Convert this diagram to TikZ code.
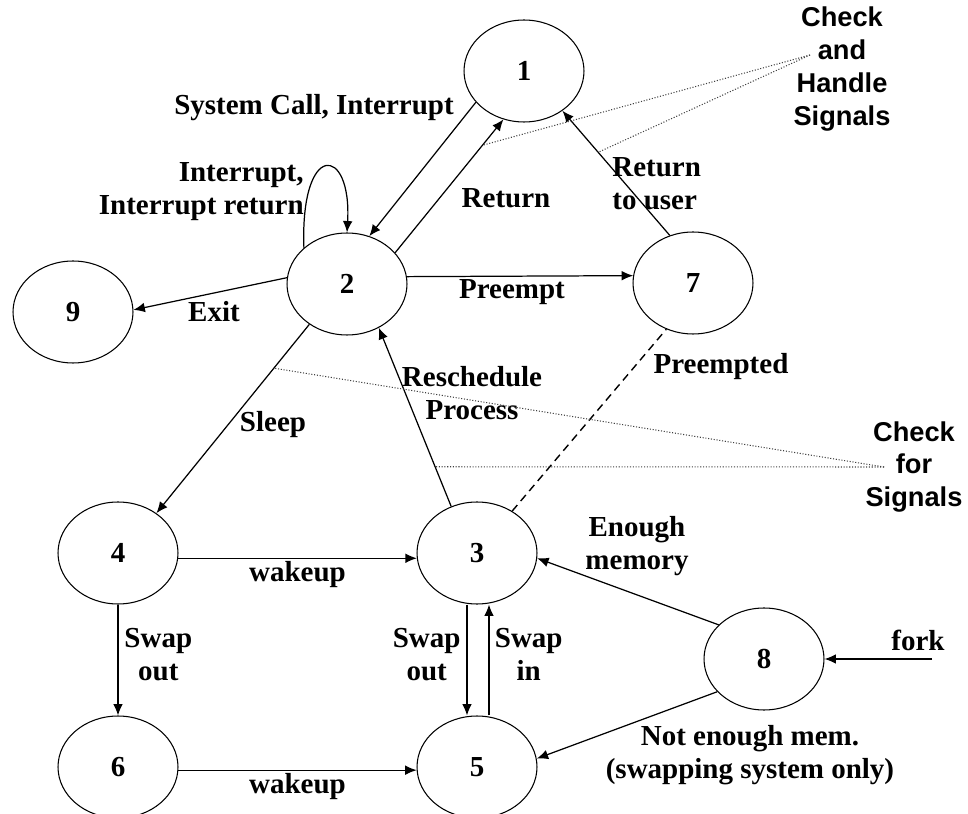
\documentclass[tikz,border=0pt]{standalone}
\usepackage{fontspec}
\setmainfont{Liberation Serif}
\newfontfamily\signalfont{Liberation Sans}
\usetikzlibrary{shapes.geometric, arrows.meta}

\begin{document}
\begin{tikzpicture}[
            x=0.02cm, y=-0.02cm,
            font=\fontsize{16.5}{18.7}\selectfont\bfseries,
            >={Latex[length=6.5pt, width=5.5pt]},
            % Styles
            state/.style={ellipse, draw, line width=0.6pt, minimum width=2.4cm, minimum height=2.04cm, inner sep=0pt},
            arrow/.style={->, line width=0.7pt},
            lbl/.style={align=center, inner sep=0pt},
            signal/.style={densely dotted, line width=0.6pt, black!75},
            note/.style={align=center, font=\signalfont\bfseries\fontsize{15.5}{18.7}\selectfont}
        ]
        \useasboundingbox (0,0) rectangle (968,814);

        % --- STATES ---
        \node[state] (s1) at (524,71) {1};
        \node[state] (s2) at (347,284) {2};
        \node[state] (s7) at (693,283) {7};
        \node[state] (s9) at (73,312) {9};
        \node[state] (s4) at (118,553) {4};
        \node[state] (s3) at (477,553) {3};
        \node[state] (s6) at (118,767) {6};
        \node[state] (s5) at (477,767) {5};
        \node[state] (s8) at (764,659) {8};

        % --- SIGNAL NOTES ---
        \node[note] (handlesig) at (842,69) {Check\\and\\Handle\\Signals};
        \node[note] (checksig) at (914,467) {Check\\for\\Signals};
        \coordinate (handlept) at (810,55);
        \coordinate (checkpt) at (884,467);
        \coordinate (forkin) at (932,659);

        % --- TOP PART ---
        \draw [arrow] (s1.213) -- (s2.65);
        \draw [arrow] (s2.33) -- coordinate[pos=0.806] (retdot) (s1.247);
        \draw [arrow] (s2.140) .. controls (300,140) and (352,145) .. (s2.90); % self loop
        \draw [arrow] (s2.174) -- (s9.2);
        \draw [arrow] (s2.7) -- (s7.173);
        \draw [arrow] (s7.116) -- coordinate[pos=0.667] (usrdot) (s1.314);
        \draw [arrow] (s2.227) -- coordinate[pos=0.232] (sleepdot) (s4.46);
        \draw [arrow] (s3.119) -- coordinate[pos=0.222] (reschdot) (s2.306);
        \draw [line width=0.8pt, dash pattern=on 4.5pt off 3pt] (s3.50) -- (s7.240);

        % --- BOTTOM PART ---
        \draw [arrow] (s4.355) -- node[below, inner sep=1.5pt] (wake1) {wakeup} (s3.185);
        \draw [arrow] (s6.357) -- node[below, inner sep=1.5pt] (wake2) {wakeup} (s5.183);
        \draw [arrow] (s4) -- node[right, pos=0.45, align=center] (swapout1) {Swap\\out} (s6);
        \draw [arrow] ([xshift=-0.2cm]s3.south) -- node[left, pos=0.45, align=center] (swapout2) {Swap\\out} ([xshift=-0.2cm]s5.north);
        \draw [arrow] ([xshift=0.24cm]s5.north) -- node[right, pos=0.55, inner sep=3pt, align=center] (swapin) {Swap\\in} ([xshift=0.24cm]s3.south);
        \draw [arrow] (s8.143) -- (s3.355);
        \draw [arrow] (s8.215) -- (s5.8);
        \draw [arrow] (forkin) -- (s8);

        % --- LABELS ---
        \node[lbl] (syscall) at (314,108) {System Call, Interrupt};
        \node[lbl, anchor=east, align=right] (intr) at (304,192) {Interrupt,\\Interrupt return};
        \node[lbl] (ret) at (506,198) {Return};
        \node[lbl, anchor=west, align=left] (retuser) at (612,184) {Return\\to user};
        \node[lbl] (exit) at (214,312) {Exit};
        \node[lbl] (preempt) at (512,292) {Preempt};
        \node[lbl] (sleep) at (273,425) {Sleep};
        \node[lbl] (resched) at (472,393) {Reschedule\\Process};
        \node[lbl] (preempted) at (721,367) {Preempted};
        \node[lbl] (enough) at (637,546) {Enough\\memory};
        \node[lbl] (notenough) at (750,755) {Not enough mem.\\(swapping system only)};
        \node[lbl] (fork) at (918,640) {fork};

        % --- CHECK FOR SIGNALS (dotted) ---
        \draw [signal] (handlept) -- (retdot);
        \draw [signal] (handlept) -- (usrdot);
        \draw [signal] (checkpt) -- (sleepdot);
        \draw [signal] (checkpt) -- (reschdot);

\end{tikzpicture}
\end{document}
